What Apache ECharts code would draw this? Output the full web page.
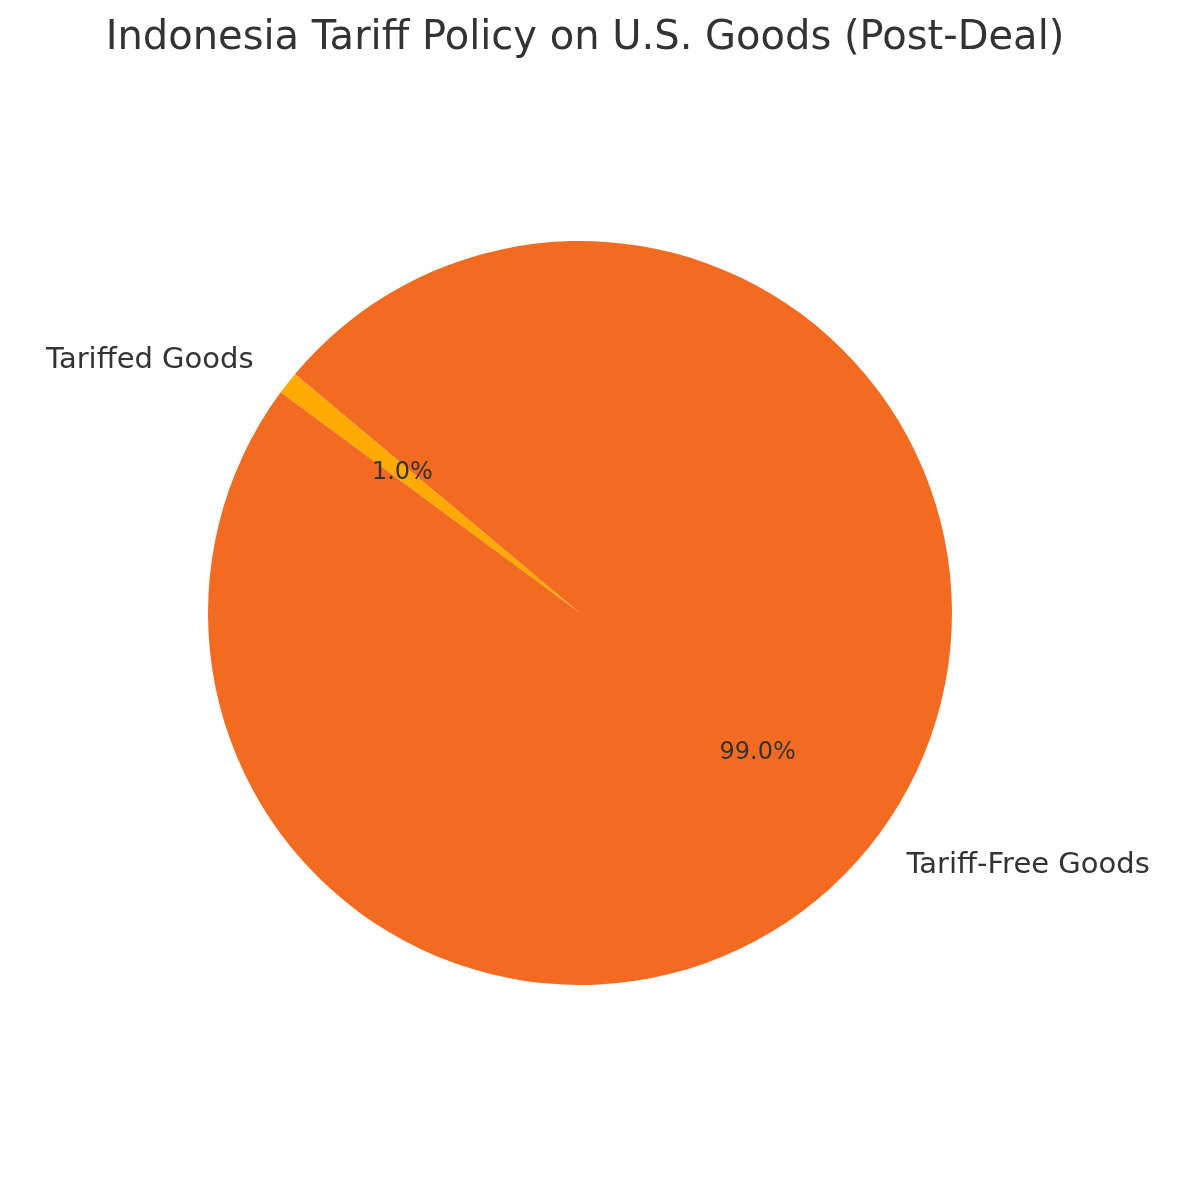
<!DOCTYPE html>
<html>
<head>
<meta charset="UTF-8">
<script src="https://cdn.jsdelivr.net/npm/echarts@6/dist/echarts.min.js"></script>
<style>html,body{margin:0;background:#fff}#chart{width:1200px;height:1177px}</style>
</head>
<body>
<div id="chart"></div>
<script>
var categories = ['Tariffed Goods', 'Tariff-Free Goods'];
var values = [1, 99];
var colors = ['#FFAA00', '#F26B21'];

var data = categories.map(function (c, i) {
  return { name: c, value: values[i], itemStyle: { color: colors[i] } };
});
var chart = echarts.init(document.getElementById('chart'));
chart.setOption({
  animation: false,
  textStyle: { fontFamily: 'DejaVu Sans' },
  title: {
    text: 'Indonesia Tariff Policy on U.S. Goods (Post-Deal)',
    left: 580, top: 14, textAlign: 'center',
    textStyle: { fontSize: 40, fontWeight: 'normal', color: '#333', fontFamily: 'DejaVu Sans' }
  },
  series: [{
    type: 'pie',
    center: [580, 613],
    radius: [0, 372],
    startAngle: 140,
    clockwise: false,
    data: data,
    label: {
      position: 'outside', formatter: '{b}', fontSize: 29, color: '#333',
      fontFamily: 'DejaVu Sans'
    },
    labelLine: { show: false, length: 37, length2: 0 }
  }, {
    type: 'pie',
    center: [580, 613],
    radius: [0, 446],
    startAngle: 140,
    clockwise: false,
    silent: true,
    data: data.map(function (d) {
      return { name: d.name, value: d.value, itemStyle: { color: 'rgba(0,0,0,0)' } };
    }),
    label: {
      position: 'inside',
      formatter: function (p) { return p.value.toFixed(1) + '%'; },
      fontSize: 24, color: '#333', fontFamily: 'DejaVu Sans'
    },
    labelLine: { show: false }
  }]
});
</script>
</body>
</html>
